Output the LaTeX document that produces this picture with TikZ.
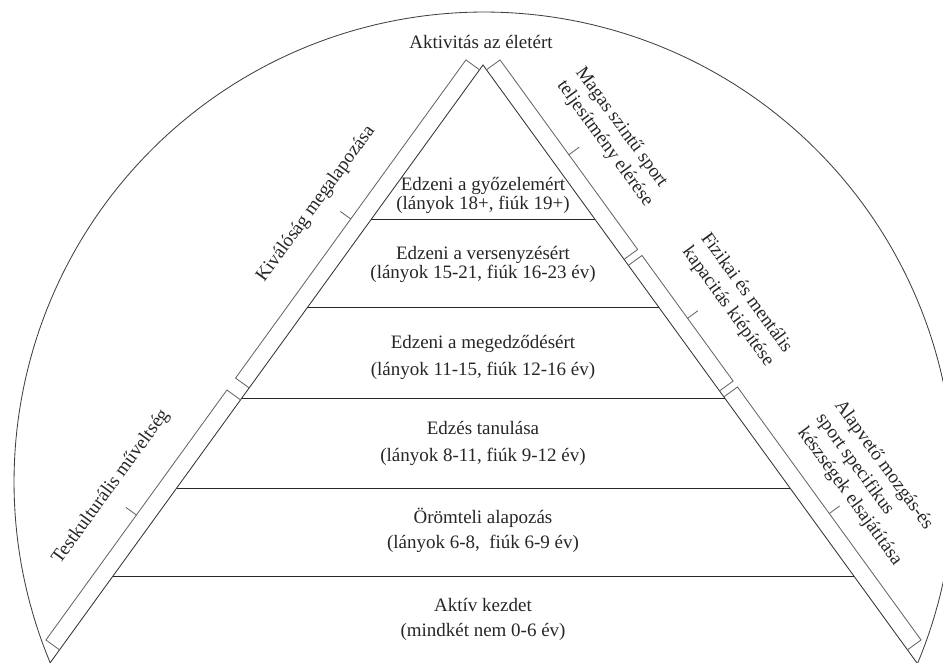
\documentclass[tikz,border=0pt]{standalone}
\usepackage{fontspec}
\setmainfont{Liberation Serif}
\usepackage{tikz}
\usetikzlibrary{calc}
\tikzset{
        stage/.style={align=center, text=black!85, font=\fontsize{13.5}{14}\selectfont},
        sidelabel/.style={align=left, text=black!85, font=\fontsize{13.5}{16.3}\selectfont},
        bracketline/.style={black!60, line width=0.6pt},
    }

\begin{document}
\begin{tikzpicture}[x=0.025cm, y=-0.025cm]
            \useasboundingbox (0,0) rectangle (943,663);
            \coordinate (A) at (483,65);
            \coordinate (BL) at (50,663);
            \coordinate (BR) at (917,663);
            \draw[black!75, line width=0.6pt, domain=-22.65:202.65, samples=180] plot ({484+470*cos(\x)}, {482-470*sin(\x)});
            \draw[black!80, line width=0.6pt] (BL) -- (A) -- (BR);
            \foreach \yy in {220,308,398,488,576}
              \draw[black!85, line width=0.7pt] ($(A)!{(\yy-65)/598}!(BL)$) -- ($(A)!{(\yy-65)/598}!(BR)$);
            \foreach \f/\g/\side/\ang in {0.008/0.54/BL/-90, 0.56/0.978/BL/-90, 0.008/0.325/BR/90, 0.335/0.545/BR/90, 0.555/0.978/BR/90}{
              \coordinate (s) at ($(A)!\f!(\side)$);
              \coordinate (e) at ($(A)!\g!(\side)$);
              \coordinate (m) at ($(s)!0.5!(e)$);
              \coordinate (x) at ($(e)!-1cm!(s)$);
              \draw[bracketline] (s) -- ($(s)!0.42cm!\ang:(e)$) -- ($(e)!0.42cm!\ang:(x)$) -- (e);
              \draw[bracketline] ($(m)!0.42cm!\ang:(e)$) -- ($(m)!0.74cm!\ang:(e)$);
            }
            \node[stage] (top) at (481,42) {Aktivitás az életért};
            \node[stage] (win) at (483,195.5) {Edzeni a győzelemért\\(lányok 18+, fiúk 19+)};
            \node[stage] (compete) at (483,264.5) {Edzeni a versenyzésért\\(lányok 15-21, fiúk 16-23 év)};
            \node[stage] (train) at (483,357.5) {Edzeni a megedződésért\\[5.5pt](lányok 11-15, fiúk 12-16 év)};
            \node[stage] (learn) at (483,443.5) {Edzés tanulása\\[5pt](lányok 8-11, fiúk 9-12 év)};
            \node[stage] (fun) at (483,530.5) {Örömteli alapozás\\[4pt](lányok 6-8,\ \ fiúk 6-9 év)};
            \node[stage] (start) at (483,619.5) {Aktív kezdet\\[4pt](mindkét nem 0-6 év)};
            \node[sidelabel, rotate=54] (excel) at (316,204) {Kiválóság megalapozása};
            \node[sidelabel, rotate=54] (literacy) at (111,487) {Testkulturális műveltség};
            \node[sidelabel, rotate=-54] (high) at (614,137) {Magas szintű sport\\teljesítmény elérése};
            \node[sidelabel, rotate=-54] (capacity) at (737,300) {Fizikai és mentális\\kapacitás kiépítése};
            \node[sidelabel, rotate=-54] (skills) at (868,483) {Alapvető mozgás-és\\sport specifikus\\készségek elsajátítása};
          \end{tikzpicture}
\end{document}
